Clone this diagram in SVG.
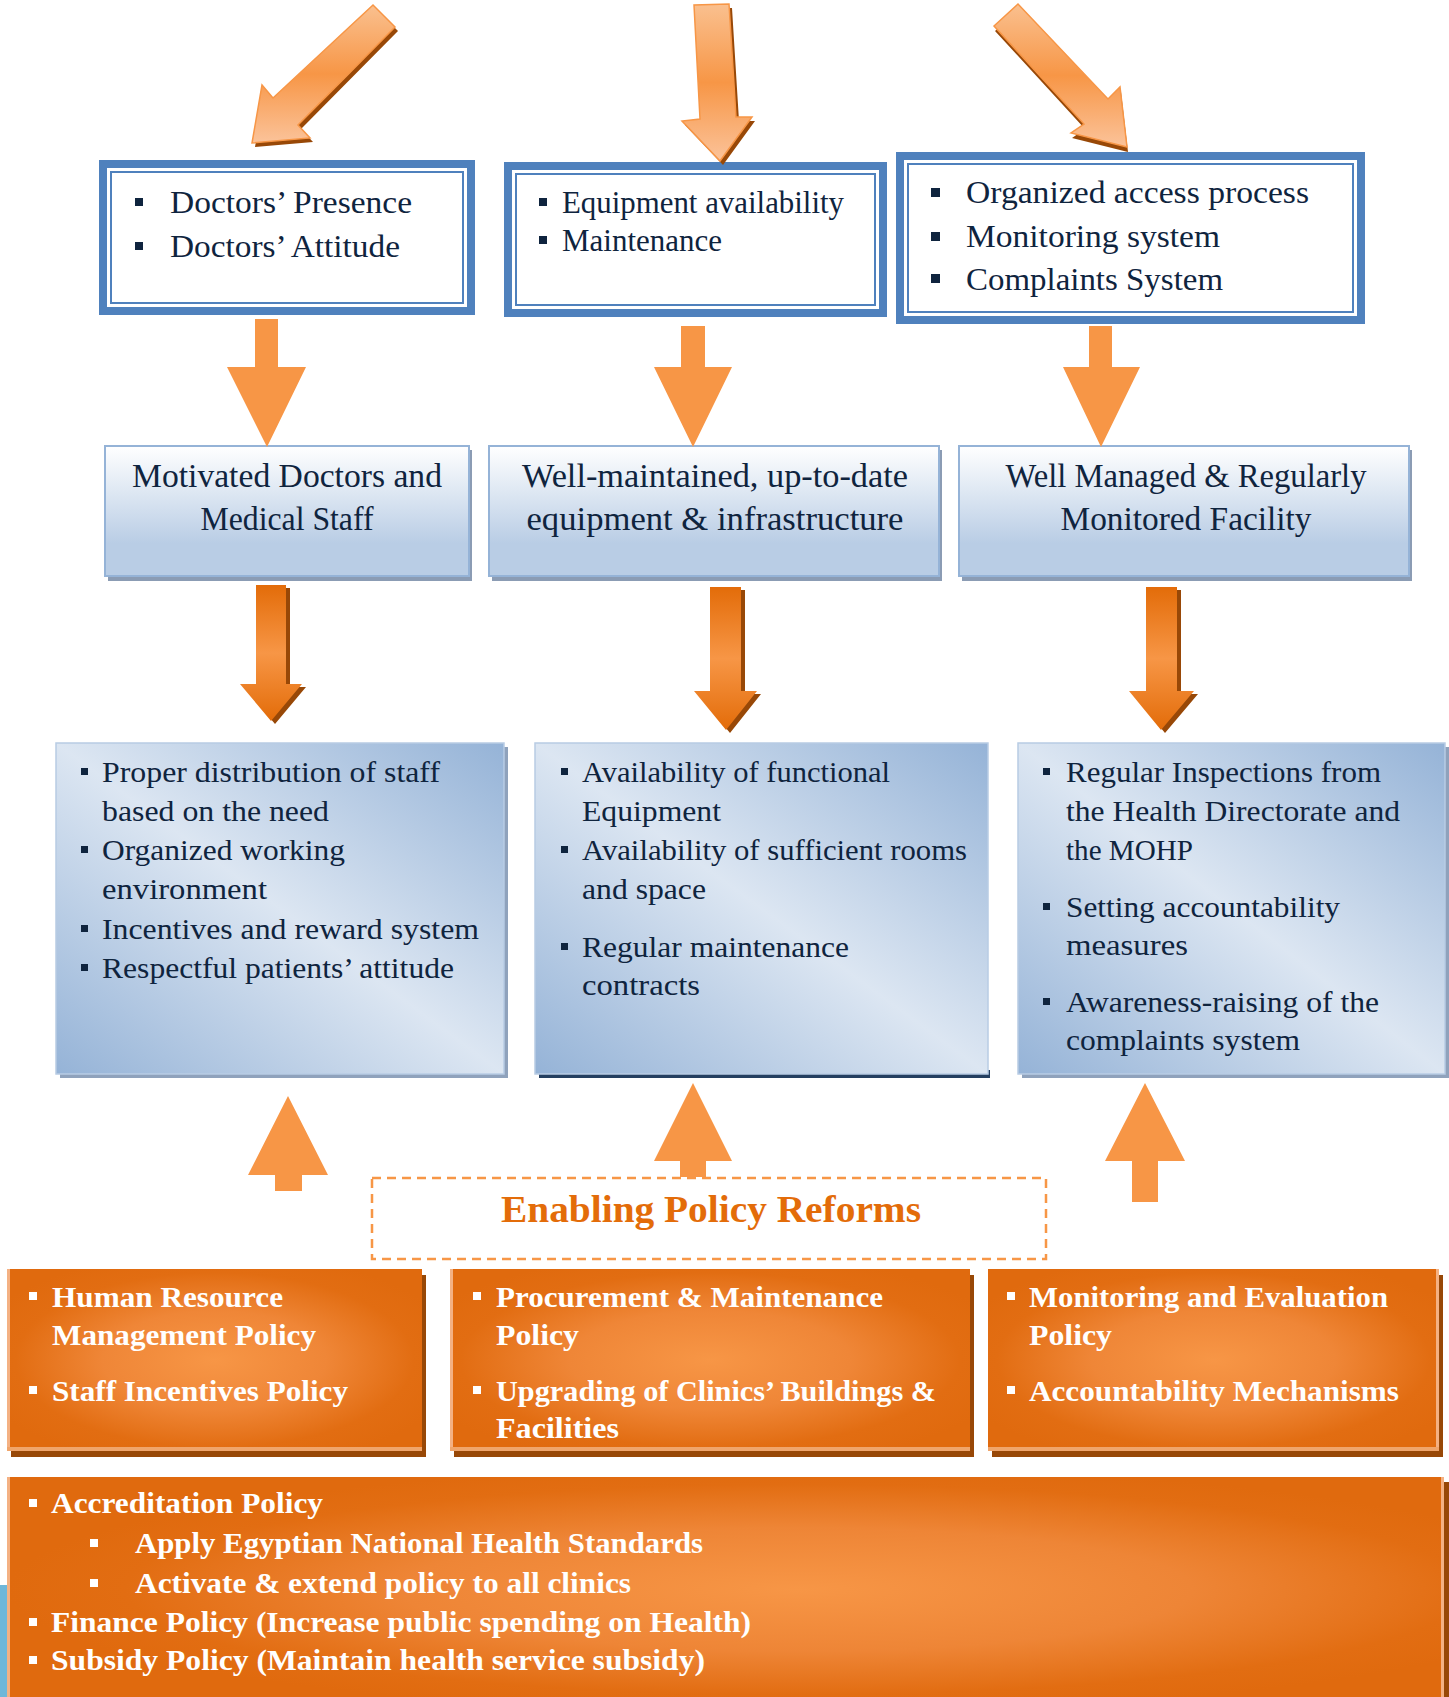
<svg xmlns="http://www.w3.org/2000/svg" width="1449" height="1697" viewBox="0 0 1449 1697">
<defs>
  <linearGradient id="gTop" x1="0" y1="0" x2="0" y2="1">
    <stop offset="0" stop-color="#fac08f"/>
    <stop offset="0.5" stop-color="#f79646"/>
    <stop offset="1" stop-color="#fbc39a"/>
  </linearGradient>
  <linearGradient id="gMid" x1="0" y1="0" x2="0" y2="1">
    <stop offset="0" stop-color="#e36c09"/>
    <stop offset="0.5" stop-color="#f79646"/>
    <stop offset="1" stop-color="#e36c09"/>
  </linearGradient>
  <linearGradient id="gBox2" x1="0" y1="0" x2="0" y2="1">
    <stop offset="0" stop-color="#ffffff"/>
    <stop offset="0.75" stop-color="#b9cde5"/>
    <stop offset="1" stop-color="#b9cde5"/>
  </linearGradient>
  <linearGradient id="gBox3" x1="0" y1="1" x2="1" y2="0">
    <stop offset="0" stop-color="#95b3d7"/>
    <stop offset="0.5" stop-color="#dce6f2"/>
    <stop offset="1" stop-color="#95b3d7"/>
  </linearGradient>
  <radialGradient id="gOr" cx="0.5" cy="0.5" r="0.6">
    <stop offset="0" stop-color="#f79646"/>
    <stop offset="0.45" stop-color="#ef8637"/>
    <stop offset="0.8" stop-color="#e26d12"/>
    <stop offset="1" stop-color="#e06a0e"/>
  </radialGradient>
  <radialGradient id="gOrBig" cx="0.55" cy="0.5" r="0.55">
    <stop offset="0" stop-color="#f79646"/>
    <stop offset="0.5" stop-color="#ee8536"/>
    <stop offset="0.85" stop-color="#e26d12"/>
    <stop offset="1" stop-color="#e06a0e"/>
  </radialGradient>
  <style>
    .t1{font-family:"Liberation Serif","Times New Roman",serif;font-size:32px;fill:#0f243e}
    .t2{font-family:"Liberation Serif","Times New Roman",serif;font-size:33px;fill:#0f243e;text-anchor:middle}
    .t3{font-family:"Liberation Serif","Times New Roman",serif;font-size:29px;fill:#0f243e}
    .tw{font-family:"Liberation Serif","Times New Roman",serif;font-size:30px;font-weight:bold;fill:#ffffff}
    .tt{font-family:"Liberation Serif","Times New Roman",serif;font-size:37px;font-weight:bold;fill:#e36c09;text-anchor:middle}
    .bd{fill:#0f243e}
    .bw{fill:#ffffff}
    .ob{fill:#4f81bd}
    .ib{fill:#ffffff}
    .il{fill:none;stroke:#4f81bd;stroke-width:2}
    .b2{fill:url(#gBox2);stroke:#95b3d7;stroke-width:2}
    .s2{fill:#8b9cb4}
    .b3{fill:url(#gBox3);stroke:#b8cce4;stroke-width:1.5}
    .s3{fill:#8fa2bc}
    .or{fill:url(#gOr)}
    .sh{fill:#984807}
    .lb{fill:#f4b183}
    .bb{fill:#f0a56b}
    .a1{fill:url(#gTop);stroke:#f79646;stroke-width:1.5}
    .a2{fill:#f79646}
    .a3{fill:url(#gMid)}
    .dash{fill:none;stroke:#f79646;stroke-width:2.5;stroke-dasharray:9 6}
  </style>
</defs>
<rect width="1449" height="1697" fill="#ffffff"/>

<!-- Top boxes -->
<g id="top-doctors">
  <rect class="ob" x="99" y="160" width="376" height="155"/>
  <rect class="ib" x="107" y="168" width="360" height="139"/>
  <rect class="il" x="111" y="172" width="352" height="131"/>
  <rect class="bd" x="135" y="198" width="8" height="8"/>
  <text class="t1" x="170" y="213" textLength="242" lengthAdjust="spacingAndGlyphs">Doctors’ Presence</text>
  <rect class="bd" x="135" y="242" width="8" height="8"/>
  <text class="t1" x="170" y="257" textLength="230" lengthAdjust="spacingAndGlyphs">Doctors’ Attitude</text>
</g>
<g id="top-equipment">
  <rect class="ob" x="504" y="162" width="383" height="155"/>
  <rect class="ib" x="512" y="170" width="367" height="139"/>
  <rect class="il" x="516" y="174" width="359" height="131"/>
  <rect class="bd" x="539" y="198" width="8" height="8"/>
  <text class="t1" x="562" y="213" textLength="282" lengthAdjust="spacingAndGlyphs">Equipment availability</text>
  <rect class="bd" x="539" y="236" width="8" height="8"/>
  <text class="t1" x="562" y="251" textLength="160" lengthAdjust="spacingAndGlyphs">Maintenance</text>
</g>
<g id="top-access">
  <rect class="ob" x="896" y="152" width="469" height="172"/>
  <rect class="ib" x="904" y="160" width="453" height="156"/>
  <rect class="il" x="908" y="164" width="445" height="148"/>
  <rect class="bd" x="931" y="188" width="9" height="9"/>
  <text class="t1" x="966" y="203" textLength="343" lengthAdjust="spacingAndGlyphs">Organized access process</text>
  <rect class="bd" x="931" y="232" width="9" height="9"/>
  <text class="t1" x="966" y="247" textLength="254" lengthAdjust="spacingAndGlyphs">Monitoring system</text>
  <rect class="bd" x="931" y="274" width="9" height="9"/>
  <text class="t1" x="966" y="290" textLength="257" lengthAdjust="spacingAndGlyphs">Complaints System</text>
</g>

<!-- Second row -->
<g id="mid-doctors">
  <rect class="s2" x="108" y="450" width="364" height="131"/>
  <rect class="b2" x="105" y="446" width="364" height="130"/>
  <text class="t2" x="287" y="487" textLength="310" lengthAdjust="spacingAndGlyphs">Motivated Doctors and</text>
  <text class="t2" x="287" y="530" textLength="173" lengthAdjust="spacingAndGlyphs">Medical Staff</text>
</g>
<g id="mid-equipment">
  <rect class="s2" x="492" y="450" width="450" height="131"/>
  <rect class="b2" x="489" y="446" width="450" height="130"/>
  <text class="t2" x="715" y="487" textLength="386" lengthAdjust="spacingAndGlyphs">Well-maintained, up-to-date</text>
  <text class="t2" x="715" y="530" textLength="377" lengthAdjust="spacingAndGlyphs">equipment &amp; infrastructure</text>
</g>
<g id="mid-facility">
  <rect class="s2" x="962" y="450" width="450" height="131"/>
  <rect class="b2" x="959" y="446" width="450" height="130"/>
  <text class="t2" x="1186" y="487" textLength="361" lengthAdjust="spacingAndGlyphs">Well Managed &amp; Regularly</text>
  <text class="t2" x="1186" y="530" textLength="251" lengthAdjust="spacingAndGlyphs">Monitored Facility</text>
</g>

<!-- Third row -->
<g id="out-staff">
  <rect class="s3" x="60" y="747" width="448" height="331"/>
  <rect class="b3" x="56" y="743" width="448" height="331"/>
  <rect class="bd" x="81" y="768" width="7" height="7"/>
  <text class="t3" x="102" y="782" textLength="338" lengthAdjust="spacingAndGlyphs">Proper distribution of staff</text>
  <text class="t3" x="102" y="821" textLength="227" lengthAdjust="spacingAndGlyphs">based on the need</text>
  <rect class="bd" x="81" y="846" width="7" height="7"/>
  <text class="t3" x="102" y="860" textLength="243" lengthAdjust="spacingAndGlyphs">Organized working</text>
  <text class="t3" x="102" y="899" textLength="165" lengthAdjust="spacingAndGlyphs">environment</text>
  <rect class="bd" x="81" y="925" width="7" height="7"/>
  <text class="t3" x="102" y="939" textLength="377" lengthAdjust="spacingAndGlyphs">Incentives and reward system</text>
  <rect class="bd" x="81" y="964" width="7" height="7"/>
  <text class="t3" x="102" y="978" textLength="352" lengthAdjust="spacingAndGlyphs">Respectful patients’ attitude</text>
</g>
<g id="out-equipment">
  <rect fill="#243f60" x="539" y="1070" width="451" height="8"/>
  <rect class="b3" x="535" y="743" width="453" height="331"/>
  <rect class="bd" x="561" y="768" width="7" height="7"/>
  <text class="t3" x="582" y="782" textLength="308" lengthAdjust="spacingAndGlyphs">Availability of functional</text>
  <text class="t3" x="582" y="821" textLength="139" lengthAdjust="spacingAndGlyphs">Equipment</text>
  <rect class="bd" x="561" y="846" width="7" height="7"/>
  <text class="t3" x="582" y="860" textLength="385" lengthAdjust="spacingAndGlyphs">Availability of sufficient rooms</text>
  <text class="t3" x="582" y="899" textLength="124" lengthAdjust="spacingAndGlyphs">and space</text>
  <rect class="bd" x="561" y="943" width="7" height="7"/>
  <text class="t3" x="582" y="957" textLength="267" lengthAdjust="spacingAndGlyphs">Regular maintenance</text>
  <text class="t3" x="582" y="995" textLength="118" lengthAdjust="spacingAndGlyphs">contracts</text>
</g>
<g id="out-facility">
  <rect class="s3" x="1022" y="747" width="427" height="331"/>
  <rect class="b3" x="1018" y="743" width="427" height="331"/>
  <rect class="bd" x="1043" y="768" width="7" height="7"/>
  <text class="t3" x="1066" y="782" textLength="315" lengthAdjust="spacingAndGlyphs">Regular Inspections from</text>
  <text class="t3" x="1066" y="821" textLength="334" lengthAdjust="spacingAndGlyphs">the Health Directorate and</text>
  <text class="t3" x="1066" y="860" textLength="127" lengthAdjust="spacingAndGlyphs">the MOHP</text>
  <rect class="bd" x="1043" y="903" width="7" height="7"/>
  <text class="t3" x="1066" y="917" textLength="274" lengthAdjust="spacingAndGlyphs">Setting accountability</text>
  <text class="t3" x="1066" y="955" textLength="122" lengthAdjust="spacingAndGlyphs">measures</text>
  <rect class="bd" x="1043" y="998" width="7" height="7"/>
  <text class="t3" x="1066" y="1012" textLength="313" lengthAdjust="spacingAndGlyphs">Awareness-raising of the</text>
  <text class="t3" x="1066" y="1050" textLength="234" lengthAdjust="spacingAndGlyphs">complaints system</text>
</g>

<!-- Enabling Policy Reforms -->
<g id="reforms-title">
  <rect class="dash" x="372" y="1178" width="674" height="81"/>
  <text class="tt" x="711" y="1222" textLength="420" lengthAdjust="spacingAndGlyphs">Enabling Policy Reforms</text>
</g>

<!-- Policy boxes -->
<g id="policy-hr">
  <rect class="sh" x="11" y="1275" width="415" height="182"/>
  <rect class="or" x="7" y="1269" width="415" height="182"/>
  <rect class="lb" x="7" y="1269" width="3" height="182"/>
  <rect class="bb" x="7" y="1447" width="415" height="4"/>
  <rect class="bw" x="29" y="1292" width="8" height="8"/>
  <text class="tw" x="52" y="1307" textLength="231" lengthAdjust="spacingAndGlyphs">Human Resource</text>
  <text class="tw" x="52" y="1345" textLength="264" lengthAdjust="spacingAndGlyphs">Management Policy</text>
  <rect class="bw" x="29" y="1386" width="8" height="8"/>
  <text class="tw" x="52" y="1401" textLength="296" lengthAdjust="spacingAndGlyphs">Staff Incentives Policy</text>
</g>
<g id="policy-procurement">
  <rect class="sh" x="454" y="1275" width="520" height="182"/>
  <rect class="or" x="450" y="1269" width="520" height="182"/>
  <rect class="lb" x="450" y="1269" width="3" height="182"/>
  <rect class="bb" x="450" y="1447" width="520" height="4"/>
  <rect class="bw" x="473" y="1292" width="8" height="8"/>
  <text class="tw" x="496" y="1307" textLength="387" lengthAdjust="spacingAndGlyphs">Procurement &amp; Maintenance</text>
  <text class="tw" x="496" y="1345" textLength="83" lengthAdjust="spacingAndGlyphs">Policy</text>
  <rect class="bw" x="473" y="1386" width="8" height="8"/>
  <text class="tw" x="496" y="1401" textLength="440" lengthAdjust="spacingAndGlyphs">Upgrading of Clinics’ Buildings &amp;</text>
  <text class="tw" x="496" y="1438" textLength="123" lengthAdjust="spacingAndGlyphs">Facilities</text>
</g>
<g id="policy-me">
  <rect class="sh" x="992" y="1275" width="451" height="182"/>
  <rect class="or" x="988" y="1269" width="451" height="182"/>
  <rect class="lb" x="1436" y="1269" width="3" height="182"/>
  <rect class="bb" x="988" y="1447" width="451" height="4"/>
  <rect class="bw" x="1007" y="1292" width="8" height="8"/>
  <text class="tw" x="1029" y="1307" textLength="359" lengthAdjust="spacingAndGlyphs">Monitoring and Evaluation</text>
  <text class="tw" x="1029" y="1345" textLength="83" lengthAdjust="spacingAndGlyphs">Policy</text>
  <rect class="bw" x="1007" y="1386" width="8" height="8"/>
  <text class="tw" x="1029" y="1401" textLength="370" lengthAdjust="spacingAndGlyphs">Accountability Mechanisms</text>
</g>
<rect x="0" y="1585" width="7" height="112" fill="#6fb7d9"/>
<g id="policy-accreditation">
  <rect class="sh" x="11" y="1482" width="1438" height="220"/>
  <rect x="7" y="1477" width="1437" height="225" fill="url(#gOrBig)"/>
  <rect class="lb" x="7" y="1477" width="3" height="225"/>
  <rect class="lb" x="1441" y="1477" width="3" height="225"/>
  <rect class="bw" x="29" y="1499" width="8" height="8"/>
  <text class="tw" x="51" y="1513" textLength="272" lengthAdjust="spacingAndGlyphs">Accreditation Policy</text>
  <rect class="bw" x="90" y="1539" width="8" height="8"/>
  <text class="tw" x="135" y="1553" textLength="568" lengthAdjust="spacingAndGlyphs">Apply Egyptian National Health Standards</text>
  <rect class="bw" x="90" y="1579" width="8" height="8"/>
  <text class="tw" x="135" y="1593" textLength="496" lengthAdjust="spacingAndGlyphs">Activate &amp; extend policy to all clinics</text>
  <rect class="bw" x="29" y="1618" width="8" height="8"/>
  <text class="tw" x="51" y="1632" textLength="700" lengthAdjust="spacingAndGlyphs">Finance Policy (Increase public spending on Health)</text>
  <rect class="bw" x="29" y="1656" width="8" height="8"/>
  <text class="tw" x="51" y="1670" textLength="654" lengthAdjust="spacingAndGlyphs">Subsidy Policy (Maintain health service subsidy)</text>
</g>

<!-- Connectors -->
<g id="connectors">
  <!-- top diagonal / vertical arrows -->
  <polygon class="sh" transform="translate(3,4)" points="373,5 273,98 262,85 252,143 310,138 298,125 395,27"/>
  <polygon class="a1" points="373,5 273,98 262,85 252,143 310,138 298,125 395,27"/>
  <polygon class="sh" transform="translate(3,4)" points="694,5 700,119 682,121 720,161 752,117 736,117 729,4"/>
  <polygon class="a1" points="694,5 700,119 682,121 720,161 752,117 736,117 729,4"/>
  <polygon class="sh" transform="translate(1,5)" points="1018,4 994,26 1084,124 1071,133 1127,147 1120,87 1108,99"/>
  <polygon class="a1" points="1018,4 994,26 1084,124 1071,133 1127,147 1120,87 1108,99"/>
  <!-- down arrows to second row -->
  <polygon class="a2" points="255,319 278,319 278,367 306,367 267,447 227,367 255,367"/>
  <polygon class="a2" points="681,326 705,326 705,367 732,367 693,447 654,367 681,367"/>
  <polygon class="a2" points="1089,326 1112,326 1112,367 1140,367 1101,447 1063,367 1089,367"/>
  <!-- gradient arrows to third row -->
  <polygon class="sh" transform="translate(4,3)" points="256,585 286,585 286,684 302,684 271,721 240,684 256,684"/>
  <polygon class="a3" points="256,585 286,585 286,684 302,684 271,721 240,684 256,684"/>
  <polygon class="sh" transform="translate(4,3)" points="710,587 741,587 741,691 757,691 726,730 694,691 710,691"/>
  <polygon class="a3" points="710,587 741,587 741,691 757,691 726,730 694,691 710,691"/>
  <polygon class="sh" transform="translate(4,3)" points="1146,587 1177,587 1177,691 1194,691 1161,730 1129,691 1146,691"/>
  <polygon class="a3" points="1146,587 1177,587 1177,691 1194,691 1161,730 1129,691 1146,691"/>
  <!-- up arrows from policy reforms -->
  <polygon class="a2" points="288,1096 328,1175 302,1175 302,1191 275,1191 275,1175 248,1175"/>
  <polygon class="a2" points="693,1083 732,1161 706,1161 706,1177 680,1177 680,1161 654,1161"/>
  <polygon class="a2" points="1145,1083 1185,1161 1158,1161 1158,1202 1132,1202 1132,1161 1105,1161"/>
</g>
</svg>
